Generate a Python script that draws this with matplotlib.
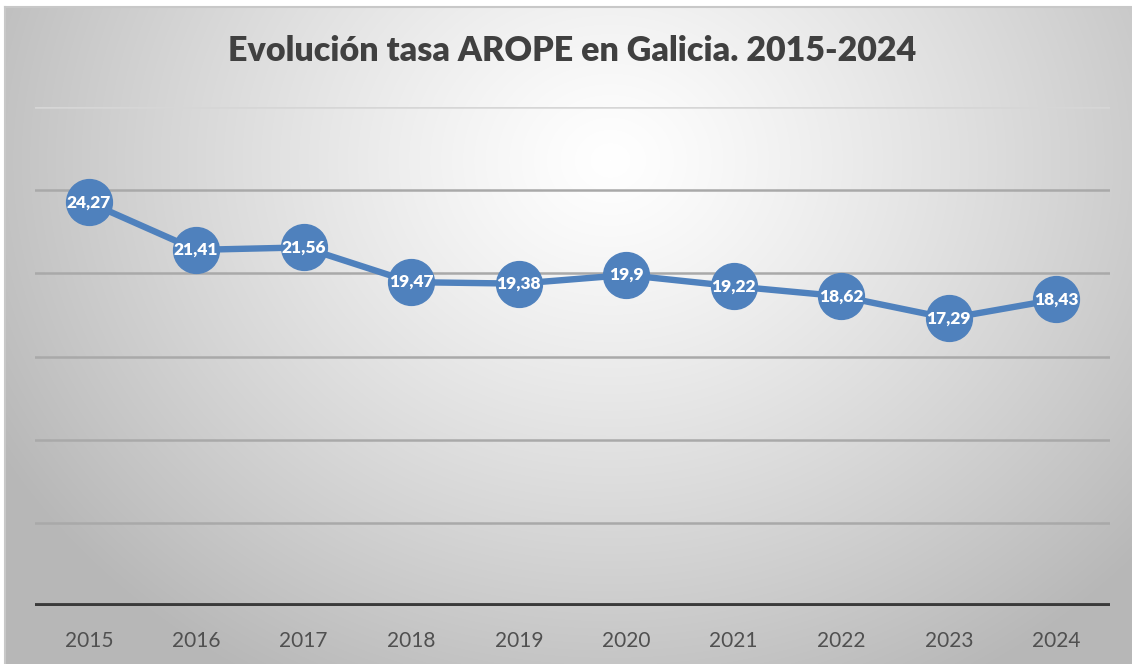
import numpy as np
import matplotlib as mpl
mpl.use('Agg')
import matplotlib.pyplot as plt

years = ['2015', '2016', '2017', '2018', '2019', '2020', '2021', '2022', '2023', '2024']
arope = [24.27, 21.41, 21.56, 19.47, 19.38, 19.9, 19.22, 18.62, 17.29, 18.43]
labels = ['24,27', '21,41', '21,56', '19,47', '19,38', '19,9', '19,22', '18,62', '17,29', '18,43']
title = 'Evolución tasa AROPE en Galicia. 2015-2024'

W, H = 1132, 664
fig = plt.figure(figsize=(W / 100, H / 100), dpi=100)
fig.patch.set_facecolor('white')

# background with radial gradient (white centre, grey edges)
bg = fig.add_axes([5 / W, 0, 1 - 5 / W, 1 - 7 / H])
yy, xx = np.mgrid[7:H, 5:W]
d = np.sqrt(((xx - 610) / 700.0) ** 2 + ((yy - 160) / 600.0) ** 2)
d = np.clip(d, 0, 1)
shade = 1.0 - 0.28 * d ** 1.2
img = np.dstack([shade, shade, shade])
bg.imshow(img, aspect='auto', extent=[0, 1, 0, 1], interpolation='bilinear')
bg.set_xlim(0, 1)
bg.set_ylim(0, 1)
bg.set_xticks([])
bg.set_yticks([])
for s in ['right', 'bottom']:
    bg.spines[s].set_visible(False)
for s in ['top', 'left']:
    bg.spines[s].set_color('#c8c8c8')
    bg.spines[s].set_linewidth(1.5)

ax = fig.add_axes([35 / W, (H - 606) / H, (1110 - 35) / W, (606 - 107) / H])
ax.patch.set_alpha(0)
x = np.arange(len(years))
ax.set_xlim(-0.5, len(years) - 0.5)
ax.set_ylim(0, 30)
ax.set_yticks(np.arange(5, 31, 5))
for yv in np.arange(5, 31, 5):
    ax.axhline(yv, color='#a9a9a9' if yv < 30 else '#d6d6d6', lw=1.8, zorder=1)
ax.axhline(0, color='#3a3a3a', lw=4.2, zorder=2)
for s in ax.spines.values():
    s.set_visible(False)
ax.set_yticklabels([])
ax.tick_params(axis='y', length=0)
ax.set_xticks(x)
ax.set_xticklabels(years, fontfamily='Lato', fontsize=15, color='#505050')
ax.tick_params(axis='x', length=0, pad=18)

ax.plot(x, arope, color='#4f81bd', lw=4.6, marker='o', markersize=33,
        markerfacecolor='#4f81bd', markeredgecolor='#4f81bd', zorder=3)
for xi, yi, lab in zip(x, arope, labels):
    ax.text(xi, yi, lab, ha='center', va='center', color='white',
            fontfamily='Lato', fontweight='heavy', fontsize=12.5, zorder=4)

fig.text(0.5057, 1 - 51 / H, title, ha='center', va='center', fontfamily='Lato',
         fontweight='heavy', fontsize=24.5, color='#404040')

fig.savefig('out.png', dpi=100)
